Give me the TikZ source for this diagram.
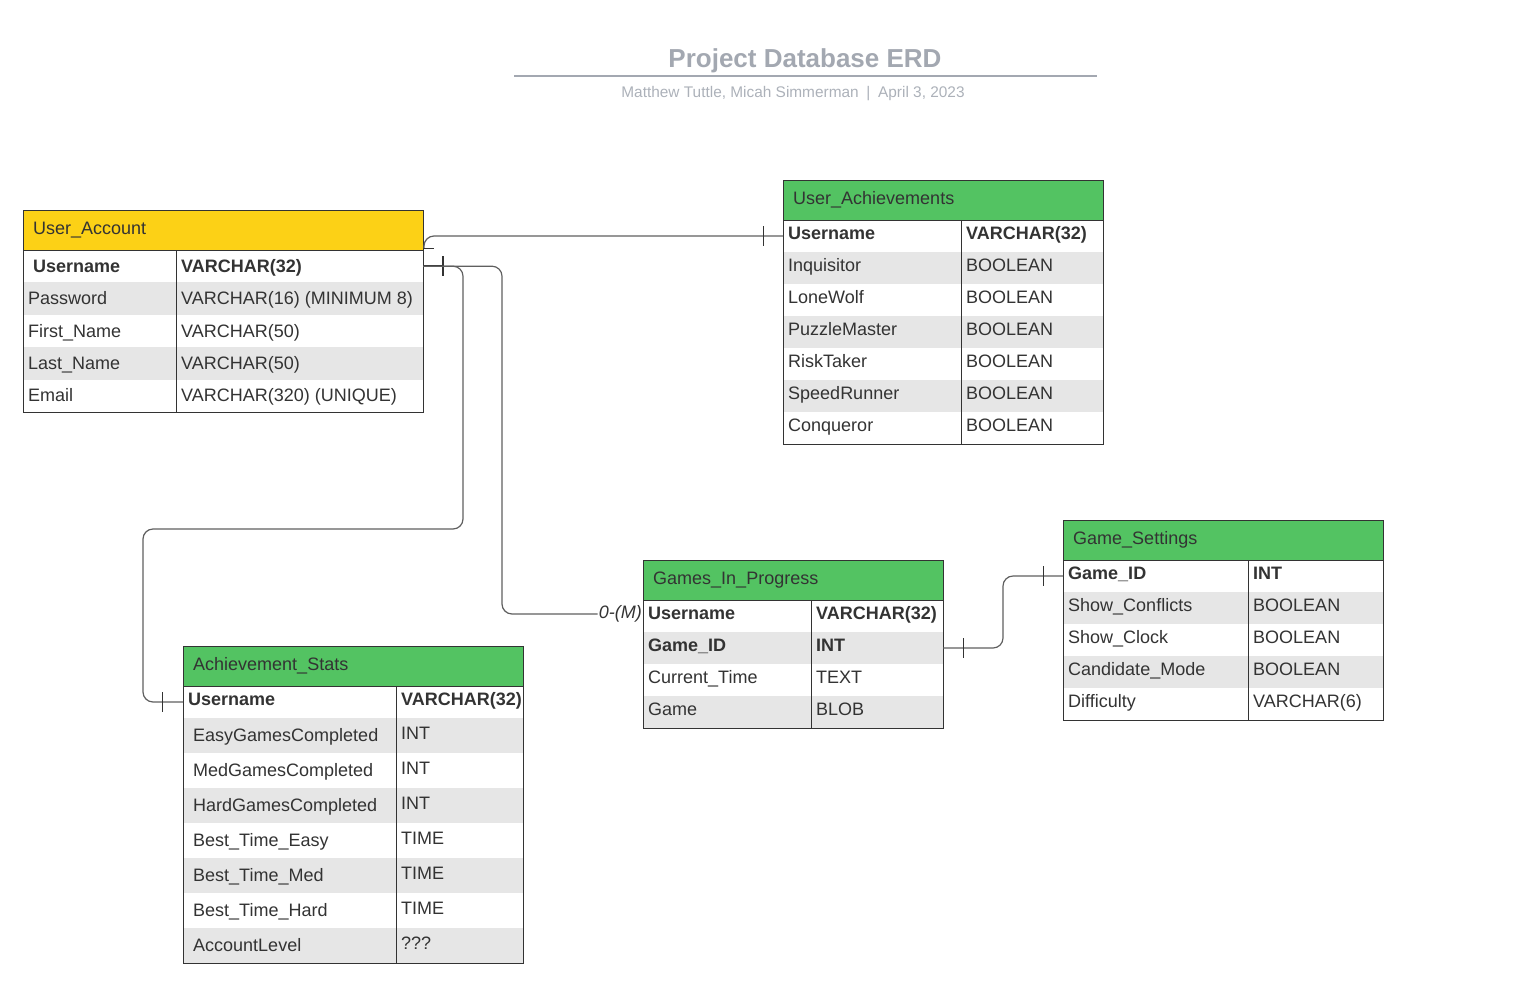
\documentclass[tikz,border=0pt]{standalone}
\usepackage{fontspec}
\setmainfont{Liberation Sans}
\usetikzlibrary{calc}
\definecolor{hdrgreen}{RGB}{83,195,98}
\definecolor{hdryellow}{RGB}{252,209,22}
\definecolor{rowgray}{RGB}{230,230,230}
\definecolor{txt}{RGB}{51,51,51}
\definecolor{titlegray}{RGB}{163,168,177}
\definecolor{subgray}{RGB}{172,177,185}
\definecolor{linegray}{RGB}{95,95,95}
\def\fdy{6}\def\tdy{6}
\newcommand\erow[9]{%
  \node[rowbox, fill=#6, minimum width=#4pt, minimum height=#5pt] (#1) at (#2,#3) {};
  \node[cell] (#1-f) at ($(#1.west)+(5,\fdy)$) {#8};
  \node[cell] (#1-t) at ($(#1.west)+(#7+5,\tdy)$) {#9};
}
\newcommand\ehead[6]{% name, x, y, w, fill, title
  \node[rowbox, fill=#5, minimum width=#4pt, minimum height=40pt] (#1) at (#2,#3) {};
  \node[cell] (#1-t) at ($(#1.west)+(10,4)$) {#6};
}
\begin{document}
\begin{tikzpicture}[x=1pt,y=-1pt,
  rowbox/.style={inner sep=0pt, outer sep=0pt, anchor=north west, draw=none},
  cell/.style={font=\fontsize{18}{21}\selectfont, text=txt, inner sep=0pt, anchor=base west},
  border/.style={draw=txt, line width=1pt},
  conn/.style={draw=linegray, line width=1.2pt, rounded corners=10pt},
  tick/.style={draw=txt, line width=1pt}]
\useasboundingbox (0,0) rectangle (1522,1004);

% title
\node[font=\fontsize{26}{30}\selectfont\bfseries, text=titlegray, anchor=base, inner sep=0pt] (title) at (805,67) {Project Database ERD};
\coordinate (rl) at (514,76);
\coordinate (rr) at (1097,76);
\draw[titlegray, line width=2pt] (rl) -- (rr);
\node[font=\fontsize{15.4}{18}\selectfont, text=subgray, anchor=base, inner sep=0pt] (sub) at (793,97) {Matthew Tuttle, Micah Simmerman\enspace|\enspace April 3, 2023};

% User_Account
\ehead{uaH}{23}{210}{400}{hdryellow}{User\_Account}
\erow{ua1}{23}{250}{400}{32.4}{white}{153}{\hspace{5pt}\textbf{Username}}{\textbf{VARCHAR(32)}}
\erow{ua2}{23}{282.4}{400}{32.4}{rowgray}{153}{Password}{VARCHAR(16) (MINIMUM 8)}
\erow{ua3}{23}{314.8}{400}{32.4}{white}{153}{First\_Name}{VARCHAR(50)}
\erow{ua4}{23}{347.2}{400}{32.4}{rowgray}{153}{Last\_Name}{VARCHAR(50)}
\erow{ua5}{23}{379.6}{400}{32.4}{white}{153}{Email}{VARCHAR(320) (UNIQUE)}
\draw[border] (uaH.north west) rectangle (ua5.south east);
\draw[border] (uaH.south west) -- (uaH.south east);
\draw[border] ($(ua1.north west)+(153,0)$) -- ($(ua5.south west)+(153,0)$);

% User_Achievements
\def\fdy{3}\def\tdy{3}
\ehead{uaa}{783}{180}{320}{hdrgreen}{User\_Achievements}
\erow{ub1}{783}{220}{320}{32}{white}{178}{\textbf{Username}}{\textbf{VARCHAR(32)}}
\erow{ub2}{783}{252}{320}{32}{rowgray}{178}{Inquisitor}{BOOLEAN}
\erow{ub3}{783}{284}{320}{32}{white}{178}{LoneWolf}{BOOLEAN}
\erow{ub4}{783}{316}{320}{32}{rowgray}{178}{PuzzleMaster}{BOOLEAN}
\erow{ub5}{783}{348}{320}{32}{white}{178}{RiskTaker}{BOOLEAN}
\erow{ub6}{783}{380}{320}{32}{rowgray}{178}{SpeedRunner}{BOOLEAN}
\erow{ub7}{783}{412}{320}{32}{white}{178}{Conqueror}{BOOLEAN}
\draw[border] (uaa.north west) rectangle (ub7.south east);
\draw[border] (uaa.south west) -- (uaa.south east);
\draw[border] ($(ub1.north west)+(178,0)$) -- ($(ub7.south west)+(178,0)$);

% Game_Settings
\ehead{gsH}{1063}{520}{320}{hdrgreen}{Game\_Settings}
\erow{gs1}{1063}{560}{320}{32}{white}{185}{\textbf{Game\_ID}}{\textbf{INT}}
\erow{gs2}{1063}{592}{320}{32}{rowgray}{185}{Show\_Conflicts}{BOOLEAN}
\erow{gs3}{1063}{624}{320}{32}{white}{185}{Show\_Clock}{BOOLEAN}
\erow{gs4}{1063}{656}{320}{32}{rowgray}{185}{Candidate\_Mode}{BOOLEAN}
\erow{gs5}{1063}{688}{320}{32}{white}{185}{Difficulty}{VARCHAR(6)}
\draw[border] (gsH.north west) rectangle (gs5.south east);
\draw[border] (gsH.south west) -- (gsH.south east);
\draw[border] ($(gs1.north west)+(185,0)$) -- ($(gs5.south west)+(185,0)$);

% Games_In_Progress
\ehead{gpH}{643}{560}{300}{hdrgreen}{Games\_In\_Progress}
\erow{gp1}{643}{600}{300}{32}{white}{168}{\textbf{Username}}{\textbf{VARCHAR(32)}}
\erow{gp2}{643}{632}{300}{32}{rowgray}{168}{\textbf{Game\_ID}}{\textbf{INT}}
\erow{gp3}{643}{664}{300}{32}{white}{168}{Current\_Time}{TEXT}
\erow{gp4}{643}{696}{300}{32}{rowgray}{168}{Game}{BLOB}
\draw[border] (gpH.north west) rectangle (gp4.south east);
\draw[border] (gpH.south west) -- (gpH.south east);
\draw[border] ($(gp1.north west)+(168,0)$) -- ($(gp4.south west)+(168,0)$);

% Achievement_Stats
\ehead{asH}{183}{646}{340}{hdrgreen}{Achievement\_Stats}
\erow{as1}{183}{686}{340}{32}{white}{213}{\textbf{Username}}{\textbf{VARCHAR(32)}}
\def\fdy{6}\def\tdy{4}
\erow{as2}{183}{718}{340}{35}{rowgray}{213}{\hspace{5pt}EasyGamesCompleted}{INT}
\erow{as3}{183}{753}{340}{35}{white}{213}{\hspace{5pt}MedGamesCompleted}{INT}
\erow{as4}{183}{788}{340}{35}{rowgray}{213}{\hspace{5pt}HardGamesCompleted}{INT}
\erow{as5}{183}{823}{340}{35}{white}{213}{\hspace{5pt}Best\_Time\_Easy}{TIME}
\erow{as6}{183}{858}{340}{35}{rowgray}{213}{\hspace{5pt}Best\_Time\_Med}{TIME}
\erow{as7}{183}{893}{340}{35}{white}{213}{\hspace{5pt}Best\_Time\_Hard}{TIME}
\erow{as8}{183}{928}{340}{35}{rowgray}{213}{\hspace{5pt}AccountLevel}{???}
\draw[border] (asH.north west) rectangle (as8.south east);
\draw[border] (asH.south west) -- (asH.south east);
\draw[border] ($(as1.north west)+(213,0)$) -- ($(as8.south west)+(213,0)$);

% connector User_Account -> User_Achievements
\coordinate (c1s) at ($(uaH.south east)+(1,-2)$);
\draw[conn] (c1s) |- (ub1.west);
\draw[tick] (c1s) -- ++(10,0);
\draw[tick] ($(ub1.west)+(-20,-10)$) -- ++(0,20);

% connector User_Account -> Achievement_Stats
\coordinate (c2a) at (463,529);
\coordinate (c2b) at (143,529);
\draw[conn] (ua1.east) -| (c2a) -- (c2b) |- (as1.west);
\draw[txt, line width=2pt] (ua1.east) -- ++(20,0);
\draw[tick, line width=1.5pt] ($(ua1.east)+(20,-10)$) -- ++(0,20);
\draw[tick] ($(as1.west)+(-21,-10)$) -- ++(0,20);

% connector User_Account -> Games_In_Progress
\node[cell, font=\fontsize{18}{21}\selectfont\itshape, anchor=east, inner sep=1pt] (lbl) at ($(gp1.west)+(0,-2)$) {0-(M)};
\coordinate (c3a) at (502,0);
\draw[conn] (ua1.east) -| (c3a |- lbl.west) -- (lbl.west);

% connector Games_In_Progress -> Game_Settings
\coordinate (c4a) at (1003,0);
\draw[conn] (gp2.east) -| (c4a |- gs1.west) -- (gs1.west);
\draw[tick] ($(gp2.east)+(20,-10)$) -- ++(0,20);
\draw[tick] ($(gs1.west)+(-20,-10)$) -- ++(0,20);
\end{tikzpicture}
\end{document}
